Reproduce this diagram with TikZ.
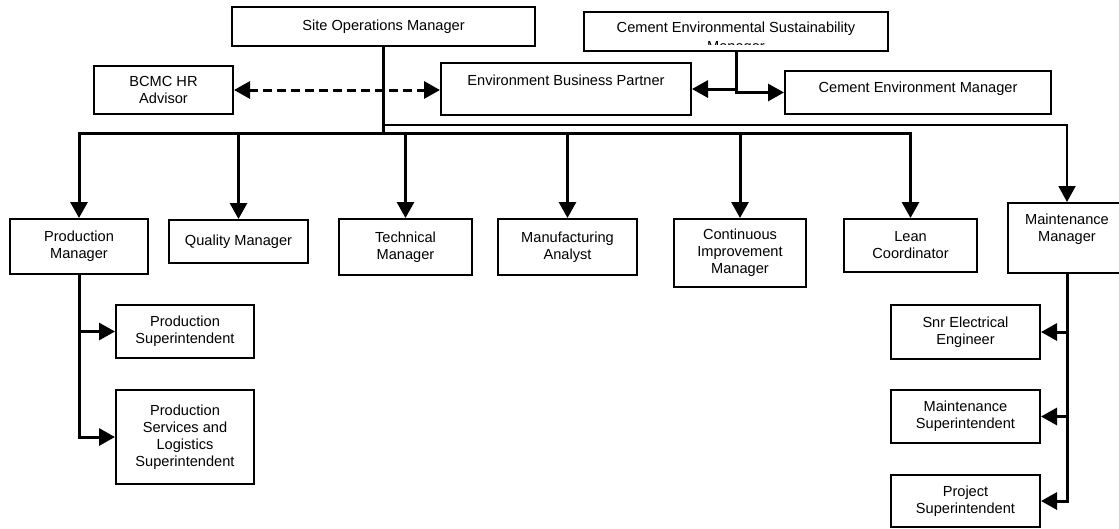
\documentclass[tikz,border=0pt]{standalone}
\usepackage{fontspec}
\setmainfont{Liberation Sans}
\usetikzlibrary{arrows.meta}
\tikzset{
  box/.style={draw=black, line width=2pt, fill=white, inner sep=2pt, align=center,
    font=\fontsize{14.6}{17}\selectfont},
  txt/.style={inner sep=0pt, align=center, font=\fontsize{14.6}{17}\selectfont},
  conn/.style={draw=black, line width=3pt, line join=miter},
  thinconn/.style={draw=black, line width=2pt, line join=miter},
  tip/.style={-{Triangle[length=16pt,width=17pt]}},
  dtip/.style={{Triangle[length=16pt,width=17pt]}-{Triangle[length=16pt,width=17pt]}},
}
\begin{document}
\begin{tikzpicture}[x=1pt,y=-1pt]
\useasboundingbox (0,0) rectangle (1119,528);
% top
\node[box, minimum width=303pt, minimum height=39pt] (som) at (383.5,26.5) {Site Operations Manager};
\node[box, minimum width=304pt, minimum height=39pt] (cesm) at (736,31.5) {};
\node[txt] (cesmT) at (736,29) {Cement Environmental Sustainability};
\begin{scope}
  \clip (585,13) rectangle (887,44.5);
  \node[txt, anchor=base] (cesmT2) at (736,51.2) {Manager};
\end{scope}
\node[box, minimum width=139pt, minimum height=48pt] (bcmc) at (163.5,90) {BCMC HR\\Advisor};
\node[box, minimum width=250pt, minimum height=52pt] (ebp) at (566,89) {};
\node[txt] (ebpT) at (566,80) {Environment Business Partner};
\node[box, minimum width=266pt, minimum height=43pt] (cem) at (918,92.5) {};
\node[txt] (cemT) at (918,88.5) {Cement Environment Manager};
% row
\node[box, minimum width=138pt, minimum height=55pt] (pm) at (79,246.5) {Production\\Manager};
\node[box, minimum width=139pt, minimum height=43pt] (qm) at (238.5,241.5) {Quality Manager};
\node[box, minimum width=133pt, minimum height=56pt] (tm) at (405.5,247) {Technical\\Manager};
\node[box, minimum width=139pt, minimum height=56pt] (ma) at (567.5,247) {Manufacturing\\Analyst};
\node[box, minimum width=132pt, minimum height=68pt] (ci) at (740,253) {Continuous\\Improvement\\Manager};
\node[box, minimum width=133pt, minimum height=53pt] (lean) at (910.5,245.5) {Lean\\Coordinator};
\node[box, minimum width=118pt, minimum height=70pt] (mm) at (1067,238) {};
\node[txt] (mmT) at (1067,229) {Maintenance\\Manager};
% lower left
\node[box, minimum width=138pt, minimum height=53pt] (ps) at (185,331.5) {Production\\Superintendent};
\node[box, minimum width=138pt, minimum height=94pt] (psls) at (185,437) {Production\\Services and\\Logistics\\Superintendent};
% lower right
\node[box, minimum width=149pt, minimum height=54pt] (see) at (965.5,332) {Snr Electrical\\Engineer};
\node[box, minimum width=149pt, minimum height=53pt] (ms) at (965.5,416.5) {Maintenance\\Superintendent};
\node[box, minimum width=149pt, minimum height=52pt] (prs) at (965.5,501) {Project\\Superintendent};
% coordinates
\coordinate (bus) at (0,133);
\coordinate (mj) at (som.south |- 0,125);
% connectors
\draw[thinconn, tip] (mj) -| (mm.north);
\draw[conn, tip] (som.south) |- (pm.north |- bus) -- (pm.north);
\draw[conn, tip] (som.south) |- (lean.north |- bus) -- (lean.north);
\draw[conn, tip] (qm.north |- bus) -- (qm.north);
\draw[conn, tip] (tm.north |- bus) -- (tm.north);
\draw[conn, tip] (ma.north |- bus) -- (ma.north);
\draw[conn, tip] (ci.north |- bus) -- (ci.north);
\draw[conn, dashed, dash pattern=on 9pt off 5pt, dtip] (bcmc.east) -- (bcmc.east -| ebp.west);
\draw[conn, tip] (cesm.south) |- (ebp.east);
\draw[conn, tip] (cesm.south) |- (cem.west);
\draw[conn, tip] (pm.south) |- (ps.west);
\draw[conn, tip] (pm.south) |- (psls.west);
\draw[conn, tip] (mm.south) |- (see.east);
\draw[conn, tip] (mm.south) |- (ms.east);
\draw[conn, tip] (mm.south) |- (prs.east);
\end{tikzpicture}
\end{document}
